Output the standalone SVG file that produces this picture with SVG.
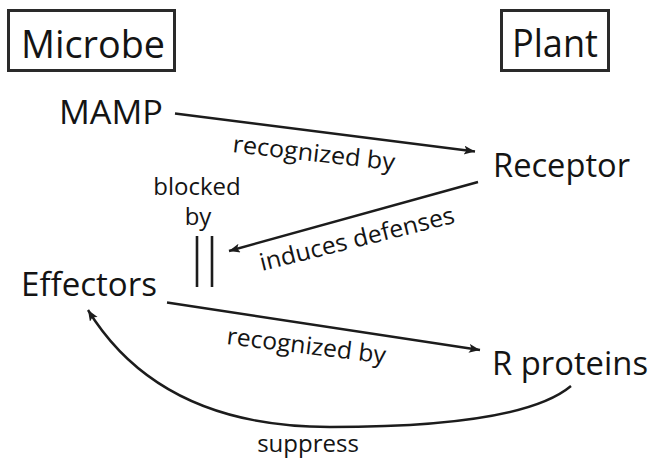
<svg xmlns="http://www.w3.org/2000/svg" width="651" height="465" viewBox="0 0 651 465">
  <defs>
    <marker id="arrow" markerWidth="12" markerHeight="10" refX="11" refY="4.5" orient="auto" markerUnits="userSpaceOnUse">
      <path d="M0,0 L11,4.5 L0,9 L2.5,4.5 z" fill="#1c1c1c"/>
    </marker>
    <style>
      text { font-family: "Open Sans", "Liberation Sans", sans-serif; fill: #141414; font-weight: 500; }
      .title { font-size: 38px; }
      .node { font-size: 32px; }
      .label { font-size: 24px; }
      .box { fill: none; stroke: #2a2a2a; stroke-width: 3; }
      .edge { fill: none; stroke: #1c1c1c; stroke-width: 2.4; marker-end: url(#arrow); }
      .bar { stroke: #1c1c1c; stroke-width: 2.6; }
    </style>
  </defs>

  <rect width="651" height="465" fill="#ffffff"/>

  <!-- column headers -->
  <g id="microbe">
    <rect class="box" x="8.5" y="10.5" width="166" height="60"/>
    <text class="title" x="21" y="58" textLength="144" lengthAdjust="spacingAndGlyphs">Microbe</text>
  </g>
  <g id="plant">
    <rect class="box" x="501.5" y="10.5" width="107" height="60"/>
    <text class="title" x="512" y="57" textLength="86" lengthAdjust="spacingAndGlyphs">Plant</text>
  </g>

  <!-- nodes -->
  <g id="mamp">
    <text class="node" x="59" y="124" textLength="104" lengthAdjust="spacingAndGlyphs">MAMP</text>
  </g>
  <g id="receptor">
    <text class="node" x="493" y="177" textLength="137" lengthAdjust="spacingAndGlyphs">Receptor</text>
  </g>
  <g id="effectors">
    <text class="node" x="21" y="296" textLength="136" lengthAdjust="spacingAndGlyphs">Effectors</text>
  </g>
  <g id="r-proteins">
    <text class="node" x="492" y="375" textLength="156" lengthAdjust="spacingAndGlyphs">R proteins</text>
  </g>

  <!-- connectors -->
  <g id="connectors">
    <line class="edge" x1="175" y1="113.5" x2="475" y2="151.5"/>
    <line class="edge" x1="478" y1="182" x2="229" y2="251"/>
    <line class="edge" x1="167" y1="302.5" x2="480" y2="350"/>
    <path class="edge" d="M571,386 Q522,427 330,427 Q160,427 88,310"/>
    <!-- block symbol -->
    <line class="bar" x1="197" y1="236" x2="197" y2="287"/>
    <line class="bar" x1="212" y1="236" x2="212" y2="287"/>
  </g>

  <!-- connector labels -->
  <g id="labels">
    <text class="label" transform="translate(232,152) rotate(6.5)" textLength="163" lengthAdjust="spacingAndGlyphs">recognized by</text>
    <text class="label" text-anchor="middle" x="197" y="195">blocked</text>
    <text class="label" text-anchor="middle" x="198" y="225">by</text>
    <text class="label" transform="translate(262,271) rotate(-14)" textLength="200" lengthAdjust="spacingAndGlyphs">induces defenses</text>
    <text class="label" transform="translate(226,344) rotate(7)" textLength="160" lengthAdjust="spacingAndGlyphs">recognized by</text>
    <text class="label" text-anchor="middle" x="308" y="452">suppress</text>
  </g>
</svg>
